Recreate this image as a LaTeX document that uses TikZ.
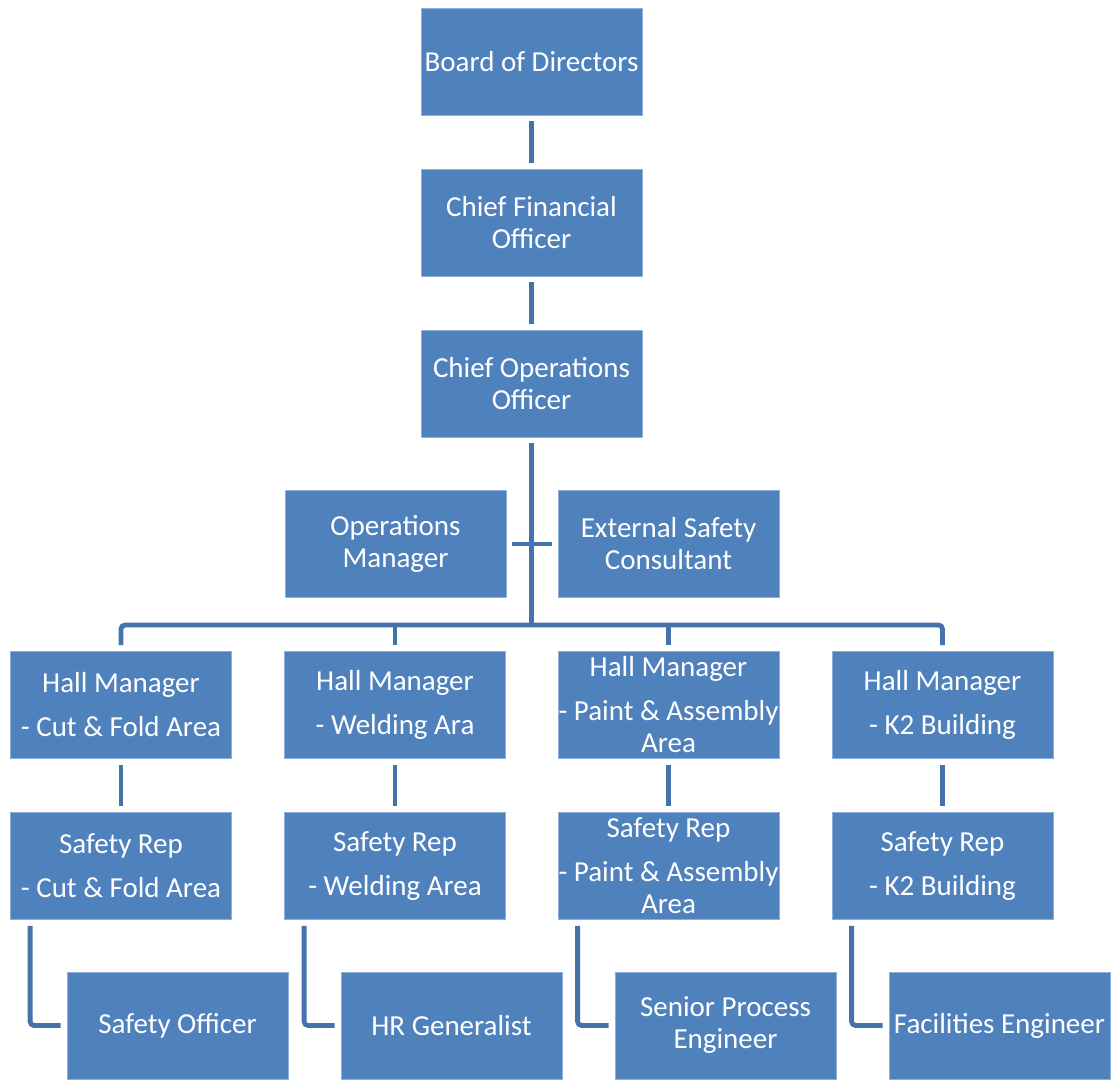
\documentclass[tikz,border=0pt]{standalone}
\usepackage{fontspec}
\setmainfont{Carlito}
\definecolor{boxfill}{HTML}{4F81BD}
\definecolor{boxedge}{HTML}{8DB0DB}
\definecolor{connclr}{HTML}{4573A9}
\begin{document}
\begin{tikzpicture}[x=1pt,y=-1pt,
  orgbox/.style={rectangle, fill=boxfill, draw=boxedge, line width=0.8pt,
    minimum width=221pt, minimum height=107pt, inner sep=0pt,
    text=white, align=center, font=\fontsize{29}{32}\selectfont},
  conn/.style={draw=connclr, line width=4.8pt},
  gapboth/.style={shorten <=6pt, shorten >=6pt}]
\useasboundingbox (0,0) rectangle (1112,1080);

\node[orgbox] (bod) at (531.5,61.5) {Board of Directors};
\node[orgbox] (cfo) at (531.5,222.5) {Chief Financial\\Officer};
\node[orgbox] (coo) at (531.5,383.5) {Chief Operations\\Officer};
\node[orgbox] (opm) at (395.5,544) {Operations\\Manager};
\node[orgbox] (esc) at (668.5,544) {External Safety\\Consultant};

\node[orgbox] (hm1) at (121,705) {Hall Manager\\[12pt]- Cut \& Fold Area};
\node[orgbox] (hm2) at (395,705) {Hall Manager\\[12pt]- Welding Ara};
\node[orgbox] (hm3) at (668.5,705) {Hall Manager\\[12pt]- Paint \& Assembly\\Area};
\node[orgbox] (hm4) at (942.5,705) {Hall Manager\\[12pt]- K2 Building};

\node[orgbox] (sr1) at (121,866) {Safety Rep\\[12pt]- Cut \& Fold Area};
\node[orgbox] (sr2) at (395,866) {Safety Rep\\[12pt]- Welding Area};
\node[orgbox] (sr3) at (668.5,866) {Safety Rep\\[12pt]- Paint \& Assembly\\Area};
\node[orgbox] (sr4) at (942.5,866) {Safety Rep\\[12pt]- K2 Building};

\node[orgbox] (b1) at (177.5,1025.5) {Safety Officer};
\node[orgbox] (b2) at (451.5,1025.5) {HR Generalist};
\node[orgbox] (b3) at (725.5,1025.5) {Senior Process\\Engineer};
\node[orgbox] (b4) at (999.5,1025.5) {Facilities Engineer};

\coordinate (bus) at (531.5,625);

% top chain
\draw[conn,gapboth] (bod.south) -- (cfo.north);
\draw[conn,gapboth] (cfo.south) -- (coo.north);
\draw[conn,shorten <=6pt] (coo.south) -- (bus);
\draw[conn,gapboth] (opm.east) -- (esc.west);

% bus
\draw[conn,rounded corners=4pt] ([yshift=6pt]hm1.north) |- (bus) -| ([yshift=6pt]hm4.north);
\draw[conn] (bus -| hm2.north) -- ([yshift=6pt]hm2.north);
\draw[conn] (bus -| hm3.north) -- ([yshift=6pt]hm3.north);

% hall manager to safety rep
\draw[conn,gapboth] (hm1.south) -- (sr1.north);
\draw[conn,gapboth] (hm2.south) -- (sr2.north);
\draw[conn,gapboth] (hm3.south) -- (sr3.north);
\draw[conn,gapboth] (hm4.south) -- (sr4.north);

% safety rep to assistants
\draw[conn,rounded corners=4pt] ([xshift=20pt,yshift=-6pt]sr1.south west) |- ([xshift=-6pt]b1.west);
\draw[conn,rounded corners=4pt] ([xshift=20pt,yshift=-6pt]sr2.south west) |- ([xshift=-6pt]b2.west);
\draw[conn,rounded corners=4pt] ([xshift=20pt,yshift=-6pt]sr3.south west) |- ([xshift=-6pt]b3.west);
\draw[conn,rounded corners=4pt] ([xshift=20pt,yshift=-6pt]sr4.south west) |- ([xshift=-6pt]b4.west);
\end{tikzpicture}
\end{document}
